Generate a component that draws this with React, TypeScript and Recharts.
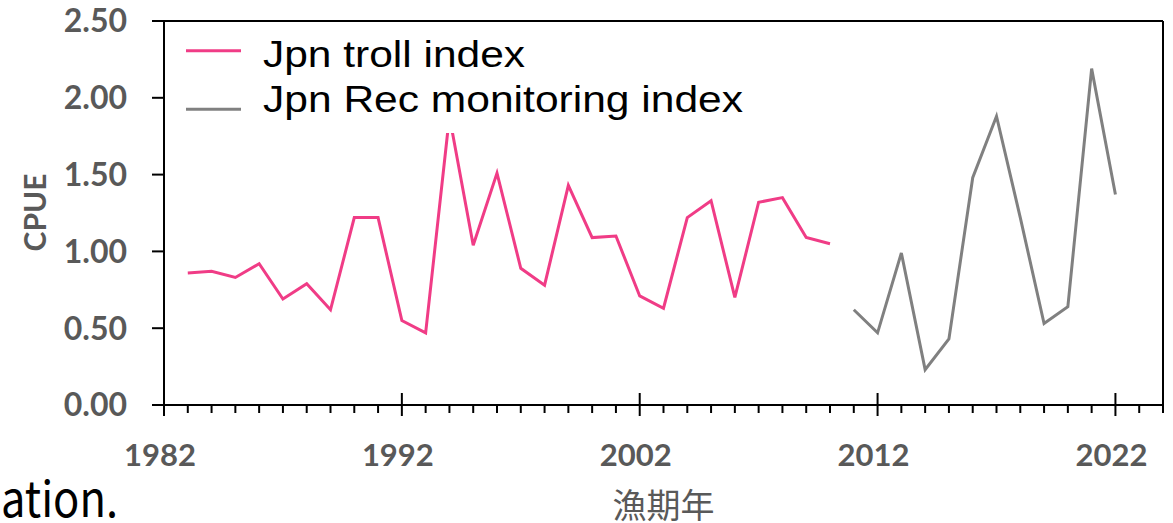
import React from 'react';
import { LineChart, Line, XAxis, YAxis, ReferenceLine } from 'recharts';

// ---- data ----
const trollYears = [1983, 1984, 1985, 1986, 1987, 1988, 1989, 1990, 1991, 1992, 1993, 1994, 1995, 1996, 1997, 1998, 1999, 2000, 2001, 2002, 2003, 2004, 2005, 2006, 2007, 2008, 2009, 2010];
const trollValues = [0.86, 0.87, 0.83, 0.92, 0.69, 0.79, 0.62, 1.22, 1.22, 0.55, 0.47, 1.88, 1.04, 1.51, 0.89, 0.78, 1.43, 1.09, 1.10, 0.71, 0.63, 1.22, 1.33, 0.70, 1.32, 1.35, 1.09, 1.05];
const recYears = [2011, 2012, 2013, 2014, 2015, 2016, 2017, 2018, 2019, 2020, 2021, 2022];
const recValues = [0.62, 0.47, 0.99, 0.23, 0.43, 1.48, 1.88, 1.22, 0.53, 0.64, 2.19, 1.37];
const majorYears = [1982, 1992, 2002, 2012, 2022];
const yTicks = [0, 0.5, 1.0, 1.5, 2.0, 2.5];
const X_MIN = 1982;
const X_MAX = 2024;
const seriesNames = ['Jpn troll index', 'Jpn Rec monitoring index'];
const xTitle = '漁期年';
const yTitle = 'CPUE';
const footText = 'ation.';

const PINK = '#F03C86';
const GRAY = '#808080';
const LABEL = '#595959';

type Row = { year: number; troll: number | null; rec: number | null };
const rows: Row[] = [];
trollYears.forEach((y, i) => rows.push({ year: y, troll: trollValues[i], rec: null }));
recYears.forEach((y, i) => rows.push({ year: y, troll: null, rec: recValues[i] }));

const allYearTicks: number[] = [];
for (let y = X_MIN; y <= X_MAX; y++) allYearTicks.push(y);

const XTick = (props: any) => {
  const { x, y, payload } = props;
  const v = payload.value;
  const major = majorYears.includes(v);
  return (
    <g>
      <line x1={x} x2={x} y1={major ? y - 12 : y} y2={major ? y + 11 : y + 8} stroke="#000" strokeWidth={2} />
      {major && (
        <text
          x={x - 4}
          y={y + 49}
          textAnchor="middle"
          dominantBaseline="central"
          fill={LABEL}
          fontFamily="Lato"
          fontWeight={700}
          fontSize={31}
        >
          {v}
        </text>
      )}
    </g>
  );
};

export default function App() {
  return (
    <div style={{ position: 'absolute', left: 0, top: 0, width: 1173, height: 523, background: '#fff', overflow: 'hidden' }}>
      <LineChart width={1173} height={523} data={rows} margin={{ top: 21, right: 10, bottom: 0, left: 0 }}>
        <XAxis
          dataKey="year"
          type="number"
          domain={[X_MIN, X_MAX]}
          ticks={allYearTicks}
          interval={0}
          height={118}
          tickLine={false}
          tickSize={0}
          tickMargin={0}
          axisLine={{ stroke: '#000', strokeWidth: 2 }}
          tick={<XTick />}
          allowDataOverflow
        />
        <YAxis
          type="number"
          domain={[0, 2.5]}
          ticks={yTicks}
          width={164}
          tickSize={12}
          tickMargin={25}
          tickLine={{ stroke: '#000', strokeWidth: 2 }}
          axisLine={{ stroke: '#000', strokeWidth: 2 }}
          tickFormatter={(v: number) => v.toFixed(2)}
          tick={{ fill: LABEL, fontFamily: 'Lato', fontWeight: 700, fontSize: 32 }}
          allowDataOverflow
        />
        <ReferenceLine y={2.5} stroke="#000" strokeWidth={2} />
        <ReferenceLine x={X_MAX} stroke="#000" strokeWidth={2} />
        <Line dataKey="troll" stroke={PINK} strokeWidth={3} dot={false} isAnimationActive={false} connectNulls={false} />
        <Line dataKey="rec" stroke={GRAY} strokeWidth={3} dot={false} isAnimationActive={false} connectNulls={false} />
      </LineChart>
      <svg width={1173} height={523} style={{ position: 'absolute', left: 0, top: 0, pointerEvents: 'none' }}>
        <text
          x={33.5}
          y={212.5}
          transform="rotate(-90 33.5 212.5)"
          textAnchor="middle"
          dominantBaseline="central"
          fill={LABEL}
          fontFamily="Lato"
          fontWeight={700}
          fontSize={30}
        >
          {yTitle}
        </text>
        <rect x={170} y={22} width={593} height={111} fill="#fff" />
        <line x1={186} x2={241} y1={50.7} y2={50.7} stroke={PINK} strokeWidth={3} />
        <line x1={186} x2={241} y1={109.3} y2={109.3} stroke={GRAY} strokeWidth={3} />
        <text x={263} y={67} fill="#000" fontFamily="Liberation Sans" fontSize={36} textLength={262} lengthAdjust="spacingAndGlyphs">{seriesNames[0]}</text>
        <text x={263} y={112} fill="#000" fontFamily="Liberation Sans" fontSize={36} textLength={480} lengthAdjust="spacingAndGlyphs">{seriesNames[1]}</text>
        <text x={663.5} y={503} textAnchor="middle" dominantBaseline="central" fill={LABEL} fontFamily="Noto Sans CJK JP" fontSize={34}>
          {xTitle}
        </text>
        <text x={1} y={517} fill="#000" fontFamily="Noto Sans CJK JP" fontSize={49} textLength={117} lengthAdjust="spacingAndGlyphs">{footText}</text>
      </svg>
    </div>
  );
}
